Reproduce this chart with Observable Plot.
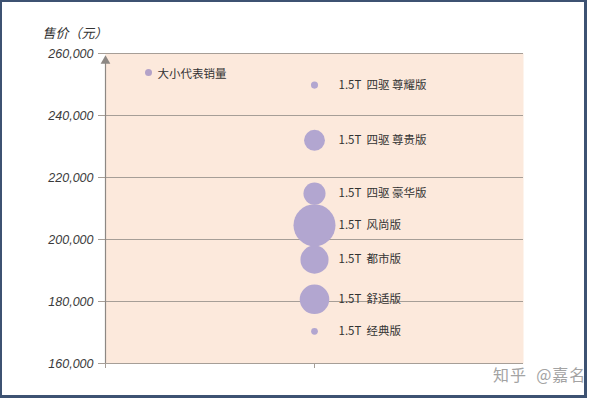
<!DOCTYPE html>
<html><head><meta charset="utf-8">
<script src="https://cdn.jsdelivr.net/npm/d3@7"></script>
<script src="https://cdn.jsdelivr.net/npm/@observablehq/plot@0.6"></script>
<style>
body{margin:0;background:#fff;}
#wrap{position:relative;width:605px;height:400px;overflow:hidden;background:#fff;}
#chart{position:absolute;left:0;top:0;}
#clip{position:absolute;left:0;top:0;width:585px;height:396px;overflow:hidden;pointer-events:none;}
#wm{position:absolute;left:493px;top:362px;font-family:"Noto Sans CJK SC";font-size:16px;letter-spacing:1px;color:#a3a3a3;white-space:pre;}
#frame{position:absolute;left:0;top:0;width:582px;height:393px;border-style:solid;border-color:#3d5272;border-width:2px 3px 3px 2px;pointer-events:none;}
</style>
</head><body>
<div id="wrap"><div id="chart"></div><div id="clip"><div id="wm">知乎  @嘉名</div></div><div id="frame"></div></div>
<script>
const names = ["1.5T\u00a0\u00a0四驱\u00a0尊耀版","1.5T\u00a0\u00a0四驱\u00a0尊贵版","1.5T\u00a0\u00a0四驱\u00a0豪华版","1.5T\u00a0\u00a0风尚版","1.5T\u00a0\u00a0都市版","1.5T\u00a0\u00a0舒适版","1.5T\u00a0\u00a0经典版"];
const prices = [249800, 232000, 214800, 204600, 193500, 180700, 170400];
const sales = [300, 2600, 2900, 10500, 4700, 5200, 270];
const yTicks = [160000, 180000, 200000, 220000, 240000, 260000];
const xTicks = [0, 1];
const yTitle = "售价（元）";
const legendText = "大小代表销量";

const data = names.map((n, i) => ({name: n, price: prices[i], sales: sales[i]}));
const fmt = d3.format(",");
const grid = "#a69e97";

const plot = Plot.plot({
  width: 605, height: 400,
  marginLeft: 105, marginRight: 82, marginTop: 53, marginBottom: 37,
  style: {background: "transparent", overflow: "visible"},
  x: {domain: [0, 2], axis: null},
  y: {domain: [160000, 260000], axis: null},
  r: {type: "sqrt", domain: [0, 10500], range: [0, 21]},
  marks: [
    Plot.frame({fill: "#fce9dc", stroke: null}),
    Plot.ruleY(yTicks, {y: d => d, stroke: grid, strokeWidth: 1, insetLeft: -7}),
    Plot.ruleX(xTicks, {x: d => d, y1: 160000, y2: 160000, stroke: grid, insetBottom: -5}),
    Plot.ruleX([0], {x: d => d, y1: 160000, y2: 257000, stroke: "#8d8884", strokeWidth: 1.2}),
    Plot.dot([257600], {x: () => 0, y: d => d, symbol: "triangle", r: 3.6, fill: "#8d8884", stroke: null}),
    Plot.text(yTicks, {y: d => d, frameAnchor: "left", dx: -12, textAnchor: "end", text: d => fmt(d),
      fontSize: 12.5, fontStyle: "italic", fontFamily: "Liberation Sans", fill: "#3a3a3a"}),
    Plot.text([yTitle], {frameAnchor: "top-left", dx: -63, dy: -25, textAnchor: "start", text: d => d,
      fontSize: 13, fontStyle: "oblique", fontFamily: "Noto Sans CJK SC", fill: "#333"}),
    Plot.dot([legendText], {frameAnchor: "top-left", dx: 43, dy: 19, r: 3.5, fill: "#b3a2c8"}),
    Plot.text([legendText], {frameAnchor: "top-left", dx: 52, dy: 16, textAnchor: "start", text: d => d,
      fontSize: 11.5, fontFamily: "Noto Sans CJK SC", fill: "#333"}),
    Plot.dot(data, {x: () => 1, y: "price", r: "sales", fill: "#b2a6d0", stroke: null}),
    Plot.text(data, {x: () => 1, y: "price", text: "name", dx: 24, textAnchor: "start",
      fontSize: 11.5, fontFamily: "Noto Sans CJK SC", fill: "#333"})
  ]
});
document.getElementById("chart").appendChild(plot);
</script>
</body></html>
